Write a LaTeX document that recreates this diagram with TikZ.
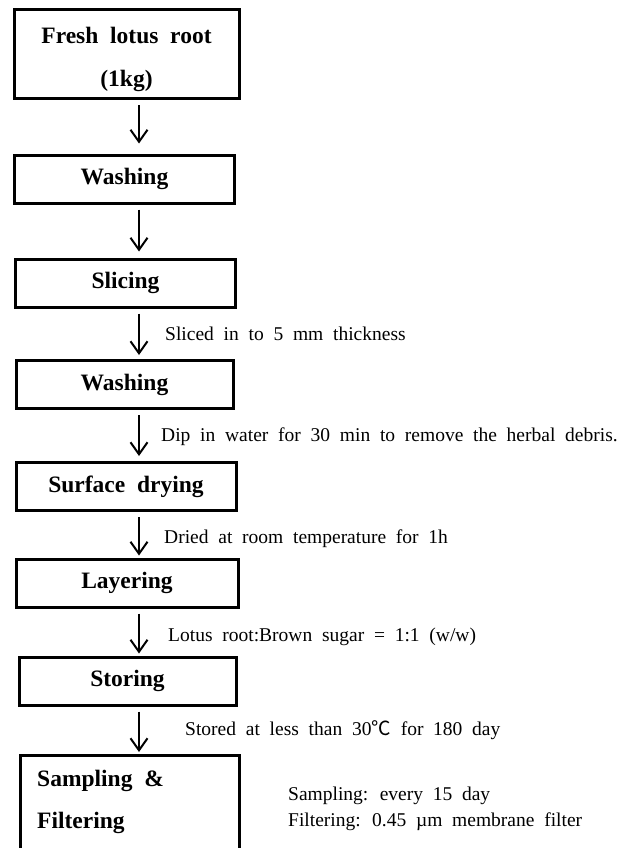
\documentclass[tikz,border=0pt]{standalone}
\usepackage{fontspec}
\setmainfont{Liberation Serif}[WordSpace=2]
\newfontfamily\cjkfont{Noto Sans CJK SC}
\usetikzlibrary{arrows.meta,positioning}

\begin{document}
\begin{tikzpicture}[x=1pt,y=-1pt,
    stepbox/.style={draw, line width=3pt, minimum width=220pt, minimum height=48pt,
        inner sep=0pt, align=center, font=\fontsize{23.5}{43}\selectfont\bfseries},
    flow/.style={-{Straight Barb[length=12pt,width=17pt]}, line width=2pt},
    note/.style={anchor=west, inner sep=0pt, align=left, font=\fontsize{19.5}{26}\selectfont}]
            \useasboundingbox (0,0) rectangle (644,848);
            \clip (0,0) rectangle (644,848);

            % Process steps
            \node[stepbox, minimum width=225pt, minimum height=89pt, text height=69pt, text depth=5pt] (fresh) at (126.5,54.5) {Fresh lotus root\\(1kg)};
            \node[stepbox] (wash1) at (124.5,179) {Washing};
            \node[stepbox] (slice) at (125.5,283) {Slicing};
            \node[stepbox, minimum width=217pt] (wash2) at (124.5,384.5) {Washing};
            \node[stepbox] (dry) at (126,486.5) {Surface drying};
            \node[stepbox, minimum width=222pt] (layer) at (127,583) {Layering};
            \node[stepbox, minimum width=217pt] (store) at (127.5,681) {Storing};
            \node[stepbox, minimum width=219pt, minimum height=130pt, anchor=north] (samp) at (129.5,754) {};
            \node[anchor=west, inner sep=0pt, align=left, font=\fontsize{23.5}{42}\selectfont\bfseries] (samptxt) at (37,802) {Sampling \&\\Filtering};

            % Arrows between the steps
            \coordinate (ax) at (139,0);
            \foreach \a/\b/\g in {fresh/wash1/10, wash1/slice/6, slice/wash2/4, wash2/dry/5, dry/layer/2, layer/store/2, store/samp/2}
                \draw[flow] ([yshift=-5pt]\a.south -| ax) -- ([yshift=\g pt]\b.north -| ax);

            % Conditions
            \node[note] (cut) at (165,334) {Sliced in to 5 mm thickness};
            \node[note] (dip) at (161,437) {Dip in water for 30 min to remove the herbal debris.};
            \node[note] (air) at (164,539) {Dried at room temperature for 1h};
            \node[note] (ratio) at (168,637) {Lotus root:Brown sugar = 1:1 (w/w)};
            \node[note] (keep) at (185,730) {Stored at less than 30{\cjkfont ℃} for 180 day};
            \node[note] (filt) at (288,809) {Sampling: every 15 day\\Filtering: 0.45 µm membrane filter};

        \end{tikzpicture}
\end{document}
